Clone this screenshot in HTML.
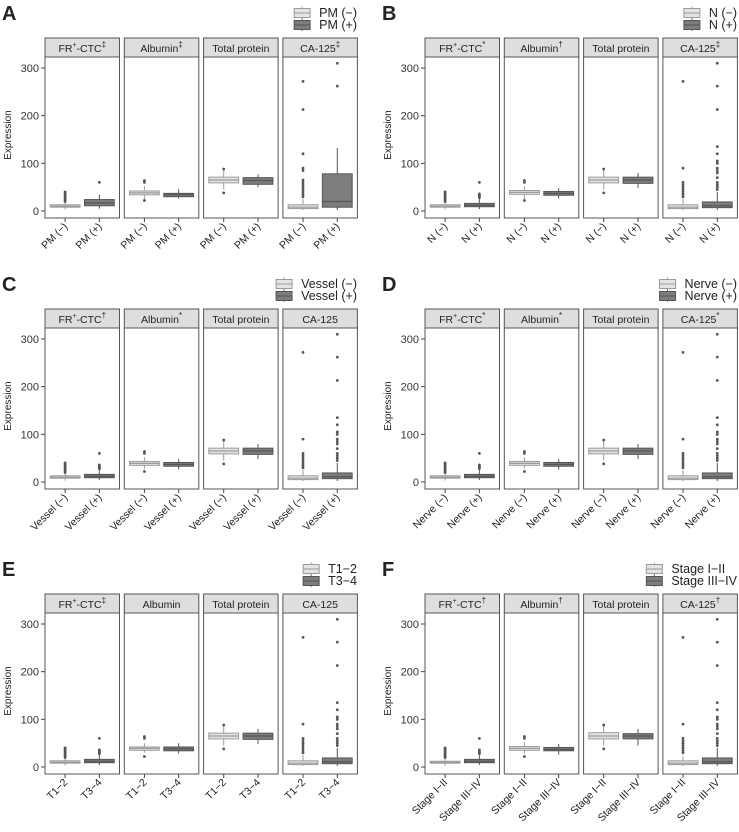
<!DOCTYPE html>
<html><head><meta charset="utf-8"><style>
body{margin:0;background:#fff}
svg{display:block;font-family:"Liberation Sans",Arial,sans-serif}
</style></head><body>
<svg id="fig" width="739" height="832" viewBox="0 0 739 832"></svg>
<script>
// ---- data ----
const panelLetters=['A','B','C','D','E','F'];
const groupLabels=[['PM (−)','PM (+)'],['N (−)','N (+)'],['Vessel (−)','Vessel (+)'],['Nerve (−)','Nerve (+)'],['T1−2','T3−4'],['Stage I−II','Stage III−IV']];
const facetNames=['FR-CTC','Albumin','Total protein','CA-125'];
const facetMarks=[['‡','‡','','‡'],['*','†','','‡'],['†','*','','',],['*','*','','*'],['‡','','',''],['†','†','','†']];
const yTicks=[0,100,200,300];
// box stats [lowWhisker,q1,median,q3,highWhisker] per panel, facet, group
const boxStats=[
 [[[3,8,10,13,18],[5,11,17,24,34]],[[25,34,38,42,52],[26,30,34,37,46]],[[45,59,65,71,85],[50,56,64,70,77]],[[2,5,8,13,25],[2,8,20,78,132]]],
 [[[3,8,10,13,18],[4,9,12,16,25]],[[25,35,39,43,52],[26,33,37,41,48]],[[45,59,65,71,85],[48,58,65,71,80]],[[2,5,8,13,25],[2,7,11,19,40]]],
 [[[3,8,10,13,18],[4,9,12,16,25]],[[28,35,39,43,52],[26,33,37,41,48]],[[45,59,65,71,85],[48,58,65,71,80]],[[2,5,8,13,25],[2,7,11,19,40]]],
 [[[3,8,10,13,18],[4,9,12,16,25]],[[28,35,39,43,52],[26,33,37,41,48]],[[45,59,65,71,85],[48,58,65,71,80]],[[2,5,8,13,25],[2,7,11,19,40]]],
 [[[3,8,10,13,18],[4,9,12,16,25]],[[30,35,39,42,50],[28,34,38,42,50]],[[45,59,65,71,85],[48,58,65,71,80]],[[2,5,8,13,25],[2,7,11,19,40]]],
 [[[3,8,10,12,17],[4,9,12,16,25]],[[28,35,39,43,52],[26,34,37,41,48]],[[45,59,65,72,88],[45,59,65,70,80]],[[2,5,8,13,22],[2,7,11,19,40]]]
];
const outA=[[[20,22,25,28,30,33,36,38,40],[60]],[[22,60,64],[]],[[38,88],[]],[[30,35,40,45,50,55,60,65,85,90,120,213,272],[262,310]]];
const outStd=[[[20,22,25,28,30,33,36,38,40],[28,30,33,36,60]],[[22,60,64],[]],[[38,88],[]],[[30,35,40,45,50,55,60,90,272],[45,50,55,60,70,80,85,90,100,105,120,135,213,262,310]]];
const outliers=[outA,outStd,outStd,outStd,outStd,outStd];
// ---- layout ----
const NS='http://www.w3.org/2000/svg';
const svg=document.getElementById('fig');
function el(t,a,p){const e=document.createElementNS(NS,t);for(const k in a)e.setAttribute(k,a[k]);(p||svg).appendChild(e);return e;}
const colX=[0,380], rowY=[0,271,556];
const fills=['#e4e4e4','#7d7d7d'], strokes=['#9a9a9a','#555'], meds=['#9a9a9a','#555'];
panelLetters.forEach((L,pi)=>{
 const ox=colX[pi%2], oy=rowY[Math.floor(pi/2)];
 const g=el('g',{transform:`translate(${ox},${oy})`});
 
 
 const t=el('text',{x:2,y:20,'font-size':20,'font-weight':'bold',fill:'#222'},g);t.textContent=L;
 
 // legend (right-aligned)
 const lg=el('g',{},g);
 
 const texts=[];
 groupLabels[pi].forEach((lab,gi)=>{
  const ly=7+gi*12;
  const tx=el('text',{x:0,y:ly+10,'font-size':12.5,fill:'#222'},lg);tx.textContent=lab;
  
  texts.push(tx);
 });
 const maxW=Math.max(...texts.map(tx=>tx.getComputedTextLength()));
 const tx0=357-maxW, kx=tx0-25;
 groupLabels[pi].forEach((lab,gi)=>{
  const ly=7+gi*12;
  texts[gi].setAttribute('x',tx0);
  el('line',{x1:kx+8,x2:kx+8,y1:ly-1,y2:ly+12,stroke:strokes[gi],'stroke-width':0.8},lg);
  el('rect',{x:kx,y:ly+1.5,width:16,height:9,fill:fills[gi],stroke:strokes[gi]},lg);
  el('line',{x1:kx,x2:kx+16,y1:ly+6,y2:ly+6,stroke:meds[gi]},lg);
 });
 const top=38, sH=19, bot=218;
 const y=v=>211-v*143/300;
 const yl=el('text',{transform:'translate(11,135) rotate(-90)','text-anchor':'middle','font-size':10,fill:'#222'},g);
 yl.textContent='Expression';
 yTicks.forEach(v=>{
  el('line',{x1:41,x2:45,y1:y(v),y2:y(v),stroke:'#444'},g);
  const tt=el('text',{x:39,y:y(v)+4,'text-anchor':'end','font-size':11,fill:'#333'},g);tt.textContent=v;
  
 });
 facetNames.forEach((fn,fi)=>{
  const fx=45+fi*79.3, fw=74.5;
  const fg=el('g',{},g);
  
  
  el('rect',{x:fx,y:top,width:fw,height:sH,fill:'#dedede',stroke:'#555'},fg);
  el('rect',{x:fx,y:top+sH,width:fw,height:bot-top-sH,fill:'#fff',stroke:'#555'},fg);
  const st=el('text',{x:fx+fw/2,y:top+14,'text-anchor':'middle','font-size':10.5,fill:'#222'},fg);
  
  if(fi===0){st.innerHTML='FR<tspan font-size="7" dy="-5">+</tspan><tspan dy="5">-CTC</tspan>';}
  else st.textContent=fn;
  if(facetMarks[pi][fi]){const s=el('tspan',{'font-size':8,dy:-5},st);s.textContent=facetMarks[pi][fi];}
  [0,1].forEach(gi=>{
   const cx=fx+fw*(gi?0.73:0.27), bw=fw*0.4;
   const s=boxStats[pi][fi][gi];
   const b=el('g',{},fg);
   
   el('line',{x1:cx,x2:cx,y1:y(s[0]),y2:y(s[4]),stroke:strokes[gi]},b);
   el('rect',{x:cx-bw/2,y:y(s[3]),width:bw,height:Math.max(1,y(s[1])-y(s[3])),fill:fills[gi],stroke:strokes[gi]},b);
   el('line',{x1:cx-bw/2,x2:cx+bw/2,y1:y(s[2]),y2:y(s[2]),stroke:meds[gi],'stroke-width':1.2},b);
   outliers[pi][fi][gi].forEach(v=>{const c=el('circle',{cx:cx,cy:y(v),r:1.4,fill:'#555'},b);
    });
   el('line',{x1:cx,x2:cx,y1:bot,y2:bot+4,stroke:'#444'},fg);
   const xl=el('text',{transform:`translate(${cx+3},${bot+9}) rotate(-45)`,'text-anchor':'end','font-size':10.5,fill:'#222'},fg);
   xl.textContent=groupLabels[pi][gi];
   
  });
 });
});
</script>
</body></html>
